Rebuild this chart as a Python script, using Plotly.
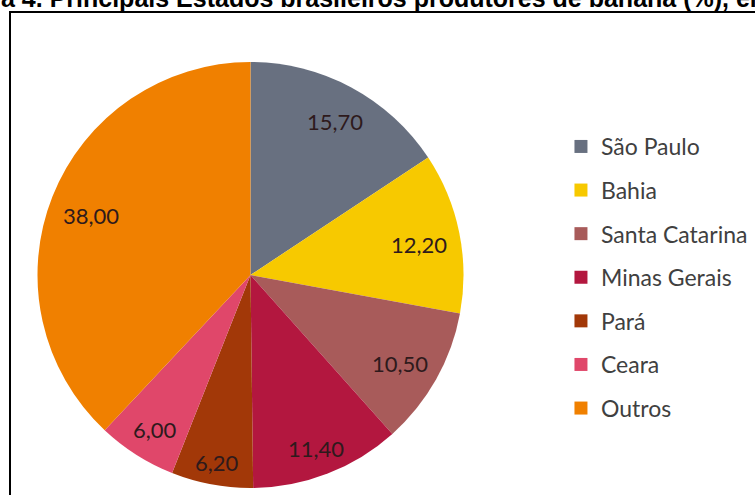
import math
import plotly.graph_objects as go

# ---- data ----
states = ["São Paulo", "Bahia", "Santa Catarina", "Minas Gerais", "Pará", "Ceara", "Outros"]
shares = [15.70, 12.20, 10.50, 11.40, 6.20, 6.00, 38.00]
slice_colors = ["#687080", "#f7c900", "#a85b5a", "#b3173f", "#a23808", "#e0476a", "#f08000"]
caption = "a 4. Principais Estados brasileiros produtores de banana (%), em"

# ---- layout constants ----
W, H = 755, 495
CX, CY_UP, R = 250.5, 220.0, 213.0   # pie centre (px, from bottom) and radius
LABEL_FONT = "Lato"
LEGEND_FONT = "Lato"

fig = go.Figure()

fig.add_trace(go.Pie(
    labels=states,
    values=shares,
    sort=False,
    direction="clockwise",
    rotation=0,
    marker=dict(colors=slice_colors, line=dict(width=0)),
    textinfo="none",
    hoverinfo="label+value",
    showlegend=False,
    domain=dict(x=[(CX - R) / W, (CX + R) / W], y=[(CY_UP - R) / H, (CY_UP + R) / H]),
))

# legend entries (one group each so spacing can be set)
for name, col in zip(states, slice_colors):
    fig.add_trace(go.Scatter(
        x=[None], y=[None], mode="markers", name=name,
        marker=dict(symbol="square", size=13, color=col),
        legendgroup=name, showlegend=True,
    ))

# data labels "inside end", positions derived from the values
annotations = []
total = sum(shares)
cum = 0.0
hw, hh, pad = 27.0, 9.0, 13.0
for v in shares:
    mid = (cum + v / 2) / total
    cum += v
    th = 2 * math.pi * mid
    sx, sy = math.sin(th), math.cos(th)
    r = R - (abs(sx) * hw + abs(sy) * hh) - pad
    annotations.append(dict(
        x=(CX + r * sx) / W, y=(CY_UP + r * sy - 4) / H, xref="paper", yref="paper",
        text=f"{v:.2f}".replace(".", ","), showarrow=False,
        xanchor="center", yanchor="middle",
        font=dict(family=LABEL_FONT, size=22, color="#2e1a1c"),
    ))

annotations.append(dict(
    x=0.0, y=(H - 12.7) / H, xref="paper", yref="paper", text="<b>" + caption + "</b>",
    showarrow=False, xanchor="left", yanchor="bottom", borderpad=0,
    font=dict(family="Liberation Sans", size=25, color="#000000"),
))

fig.update_layout(
    width=W, height=H,
    margin=dict(l=0, r=0, t=0, b=0),
    paper_bgcolor="white", plot_bgcolor="white",
    xaxis=dict(visible=False), yaxis=dict(visible=False),
    annotations=annotations,
    legend=dict(
        x=0.743, y=(H - 125) / H, xanchor="left", yanchor="top",
        font=dict(family=LEGEND_FONT, size=23, color="#404040"),
        tracegroupgap=10.7, bgcolor="rgba(0,0,0,0)",
        itemclick=False, itemdoubleclick=False,
    ),
    shapes=[dict(
        type="rect", xref="paper", yref="paper",
        x0=10 / W, x1=1.05, y0=-0.05, y1=(H - 12) / H,
        line=dict(color="black", width=2), fillcolor="rgba(0,0,0,0)", layer="above",
    )],
)

fig.write_html("out.html")
